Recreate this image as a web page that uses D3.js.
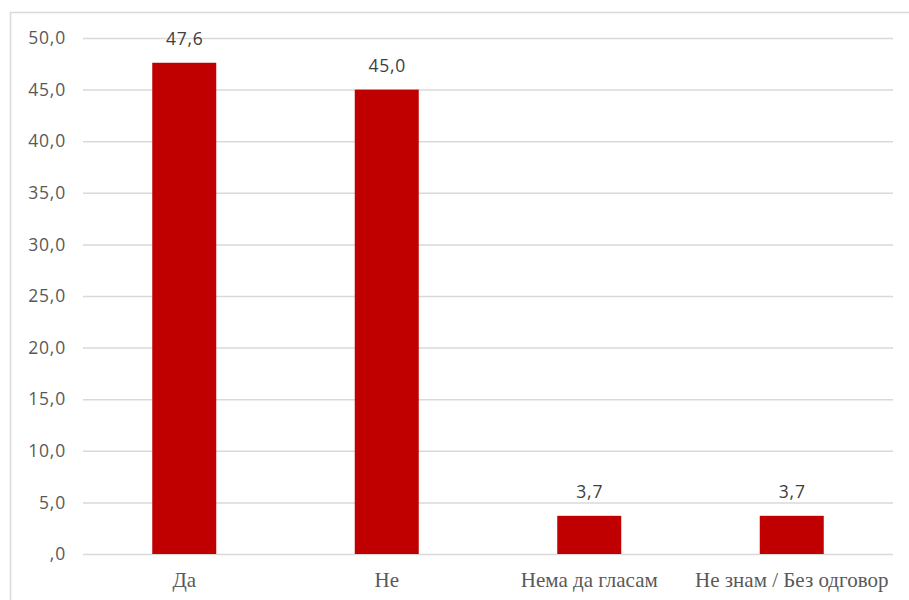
<!DOCTYPE html>
<html><head><meta charset="utf-8">
<script src="https://cdn.jsdelivr.net/npm/d3@7"></script>
<style>body{margin:0;background:#fff}svg{display:block}</style>
</head><body>
<script>
const categories = ["Да", "Не", "Нема да гласам", "Не знам / Без одговор"];
const values = [47.6, 45.0, 3.7, 3.7];
const yTicks = [0, 5, 10, 15, 20, 25, 30, 35, 40, 45, 50];

const W = 909, H = 600;
const m = {left: 83, right: 16, top: 38, bottom: 46};
const svg = d3.select("body").append("svg").attr("width", W).attr("height", H);

svg.append("rect").attr("x", 10.5).attr("y", 12.5).attr("width", 920).attr("height", 620)
  .attr("fill", "none").attr("stroke", "#d9d9d9").attr("stroke-width", 1.5);

const x = d3.scaleBand().domain(categories).range([m.left, W - m.right]).paddingInner(0.684).paddingOuter(0.342);
const y = d3.scaleLinear().domain([0, 50]).range([H - m.bottom, m.top]);

const fmt = v => { const s = d3.format(".1f")(v).replace(".", ","); return s.startsWith("0,") ? s.slice(1) : s; };

const yAxis = svg.append("g").attr("transform", `translate(${m.left},0)`)
  .call(d3.axisLeft(y).tickValues(yTicks).tickSize(-(W - m.right - m.left)).tickPadding(17).tickFormat(fmt));
yAxis.select(".domain").remove();
yAxis.selectAll(".tick line").attr("stroke", "#d9d9d9").attr("stroke-width", 1.5);
yAxis.selectAll(".tick text").attr("fill", "#595959").attr("font-family", "'Open Sans', sans-serif")
  .attr("font-size", 17.5).attr("letter-spacing", 0.8);

svg.selectAll("rect.bar").data(values).join("rect").attr("class", "bar")
  .attr("x", (d, i) => x(categories[i])).attr("width", x.bandwidth())
  .attr("y", d => y(d)).attr("height", d => y(0) - y(d)).attr("fill", "#c00000");

svg.selectAll("text.val").data(values).join("text").attr("class", "val")
  .attr("x", (d, i) => x(categories[i]) + x.bandwidth() / 2 + 0.5).attr("y", d => y(d) - 18)
  .attr("text-anchor", "middle").attr("fill", "#404040")
  .attr("font-family", "'Open Sans', sans-serif").attr("font-size", 17.5).attr("letter-spacing", 0.8).text(fmt);

const xAxis = svg.append("g").attr("transform", `translate(0,${y(0)})`)
  .call(d3.axisBottom(x).tickSize(0).tickPadding(18));
xAxis.select(".domain").remove();
xAxis.selectAll(".tick text").attr("fill", "#595959").attr("font-family", "'Liberation Serif', serif").attr("font-size", 21);
</script>
</body></html>
